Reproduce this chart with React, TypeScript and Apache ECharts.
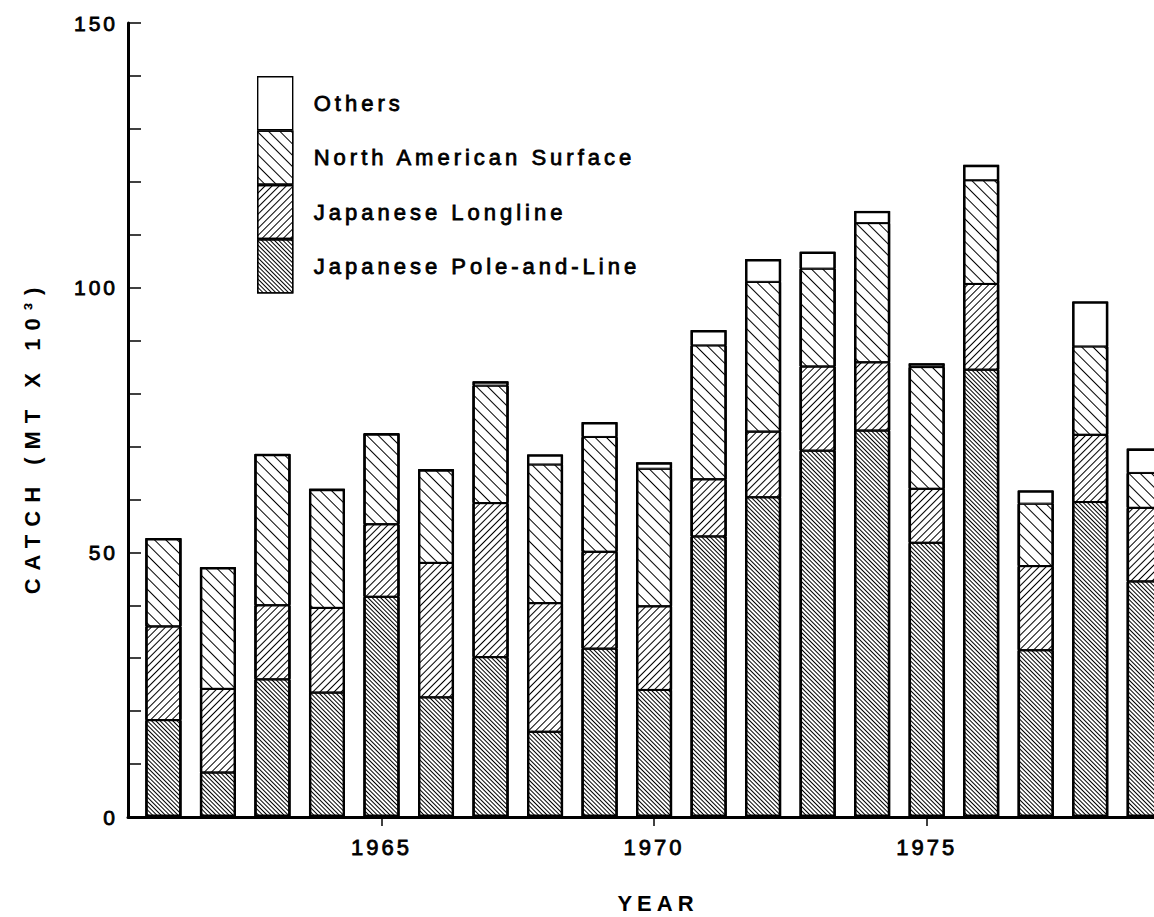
import React, { useEffect, useRef } from 'react';
import * as echarts from 'echarts';

const FONT = '"Liberation Sans", Arial, Helvetica, sans-serif';

const YEARS = [1961, 1962, 1963, 1964, 1965, 1966, 1967, 1968, 1969, 1970, 1971, 1972, 1973, 1974, 1975, 1976, 1977, 1978, 1979];
const POLE_AND_LINE = [18.3, 8.4, 26.0, 23.5, 41.6, 22.6, 30.2, 16.1, 31.8, 24.0, 53.0, 60.4, 69.2, 73.0, 51.8, 84.5, 31.5, 59.5, 44.5];
const LONGLINE = [17.7, 15.8, 14.0, 16.0, 13.7, 25.4, 29.1, 24.3, 18.3, 15.8, 10.8, 12.4, 15.9, 12.9, 10.2, 16.2, 15.9, 12.7, 13.9];
const NA_SURFACE = [16.7, 23.0, 28.6, 22.5, 17.2, 17.7, 22.2, 26.2, 21.7, 26.0, 25.3, 28.3, 18.5, 26.3, 23.0, 19.6, 11.8, 16.7, 6.6];
const OTHERS = [null, null, null, null, null, null, 0.8, 1.9, 2.8, 1.2, 2.9, 4.3, 3.2, 2.3, 0.7, 2.9, 2.5, 8.5, 4.6];

const X_TICKS = [1965, 1970, 1975];
const Y_LABELS = [0, 50, 100, 150];

const NAMES = ['Japanese Pole-and-Line', 'Japanese Longline', 'North American Surface', 'Others'];

export default function App() {
  const ref = useRef<HTMLDivElement>(null);

  useEffect(() => {
    const el = ref.current!;
    const chart = echarts.init(el, null, { renderer: 'svg' });

    const hatch = (dash: number[], rotation: number) => ({
      symbol: 'rect',
      symbolSize: 1,
      dashArrayX: [1, 0],
      dashArrayY: dash,
      rotation,
      color: '#000',
      backgroundColor: '#fff',
    });

    const decals = [
      hatch([1, 2], Math.PI / 4),
      hatch([1, 4], -Math.PI / 4),
      hatch([1, 7], Math.PI / 4),
      null,
    ];
    const values = [POLE_AND_LINE, LONGLINE, NA_SURFACE, OTHERS];
    const totals = YEARS.map((_, k) => values.reduce((s, arr) => s + (arr[k] || 0), 0));

    const series: any[] = NAMES.map((name, i) => {
      const itemStyle: any = { color: '#fff', borderColor: '#000', borderWidth: 1 };
      if (decals[i]) itemStyle.decal = decals[i];
      return {
        name,
        type: 'bar',
        stack: 'catch',
        barWidth: 36,
        barGap: '-100%',
        clip: true,
        itemStyle,
        emphasis: { disabled: true },
        encode: { x: 1, y: 0 },
        data: YEARS.map((y, k) => [values[i][k], y]),
      };
    });
    series.push({
      name: 'outline',
      type: 'bar',
      barWidth: 36,
      barGap: '-100%',
      clip: true,
      silent: true,
      z: 5,
      itemStyle: { color: 'rgba(0,0,0,0)', borderColor: '#000', borderWidth: 2.4 },
      emphasis: { disabled: true },
      encode: { x: 1, y: 0 },
      data: YEARS.map((y, k) => [totals[k], y]),
    });

    const labelStyle = {
      fontFamily: FONT,
      color: '#000',
      textBorderColor: '#000',
      textBorderWidth: 0.8,
    };

    chart.setOption({
      animation: false,
      backgroundColor: '#fff',
      grid: { left: 128, right: 0, top: 23, bottom: 100, containLabel: false },
      xAxis: {
        type: 'value',
        min: 1960.35,
        max: 1979.17,
        splitLine: { show: false },
        axisLine: { show: true, lineStyle: { color: '#000', width: 3 } },
        axisTick: { show: true, customValues: X_TICKS, length: 9, lineStyle: { color: '#000', width: 1.5 } },
        axisLabel: {
          ...labelStyle,
          customValues: X_TICKS,
          fontSize: 22,
          margin: 19,
          formatter: (v: number) => String(v),
        },
      },
      yAxis: {
        type: 'value',
        min: 0,
        max: 150,
        interval: 10,
        splitLine: { show: false },
        axisLine: { show: true, lineStyle: { color: '#000', width: 3 } },
        axisTick: { show: true, inside: true, length: 13, lineStyle: { color: '#000', width: 1.5 } },
        axisLabel: {
          ...labelStyle,
          fontSize: 21,
          margin: 10,
          formatter: (v: number) => (Y_LABELS.indexOf(v) >= 0 ? String(v) : ''),
        },
      },
      legend: {
        orient: 'vertical',
        left: 257,
        top: 76,
        padding: 0,
        itemGap: 0,
        itemWidth: 35,
        itemHeight: 53,
        icon: 'rect',
        selectedMode: false,
        itemStyle: { borderWidth: 1.4, borderColor: '#000' },
        data: ['Others', 'North American Surface', 'Japanese Longline', 'Japanese Pole-and-Line'],
        textStyle: { ...labelStyle, fontSize: 22, padding: [0, 0, 0, 16] },
      },
      graphic: [
        {
          type: 'text',
          x: 32,
          y: 437,
          rotation: Math.PI / 2,
          style: {
            text: 'CATCH (MT X 10³)',
            fill: '#000',
            fontFamily: FONT,
            fontWeight: 'bold',
            fontSize: 22,
            textAlign: 'center',
            textVerticalAlign: 'middle',
            align: 'center',
            verticalAlign: 'middle',
          },
        },
        {
          type: 'text',
          x: 658,
          y: 903,
          style: {
            text: 'YEAR',
            fill: '#000',
            fontFamily: FONT,
            fontWeight: 'bold',
            fontSize: 22,
            textAlign: 'center',
            textVerticalAlign: 'middle',
            align: 'center',
            verticalAlign: 'middle',
          },
        },
      ],
      series,
    });

    const space = () => {
      el.querySelectorAll('text').forEach((t) => {
        const s = t.textContent || '';
        let ls = '3px';
        if (s.indexOf('CATCH') >= 0) ls = '8px';
        else if (s === 'YEAR') ls = '5px';
        else if (/[A-Za-z]/.test(s)) ls = '4px';
        (t as SVGTextElement).style.letterSpacing = ls;
      });
    };
    space();
    chart.on('finished', space);
    const timer = setTimeout(space, 50);

    return () => {
      clearTimeout(timer);
      chart.dispose();
    };
  }, []);

  return (
    <div style={{ position: 'fixed', left: 0, top: 0, width: 1154, height: 917, background: '#fff', overflow: 'hidden' }}>
      <div ref={ref} style={{ width: 1154, height: 917 }} />
    </div>
  );
}
